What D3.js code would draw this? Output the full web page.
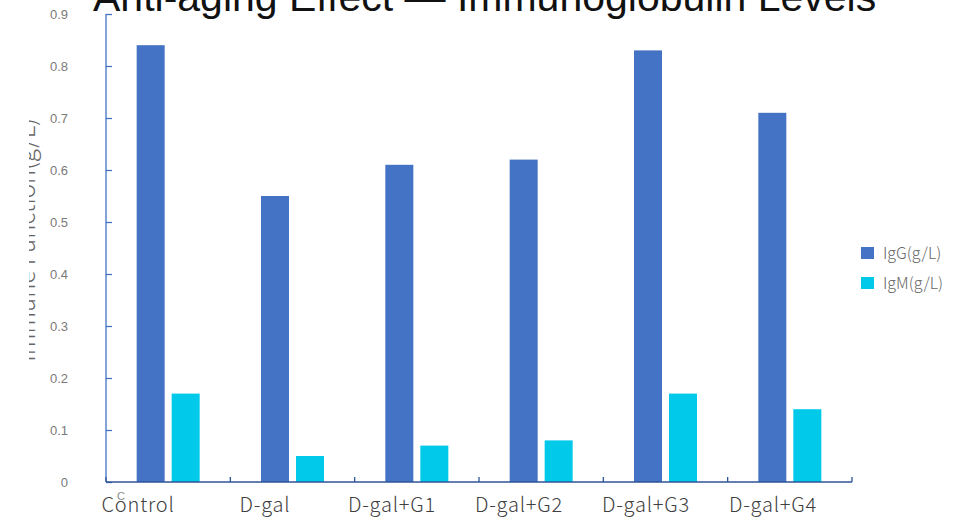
<!DOCTYPE html>
<html>
<head>
<meta charset="utf-8">
<script src="https://cdn.jsdelivr.net/npm/d3@7"></script>
<style>
  html, body { margin: 0; padding: 0; background: #fff; }
  svg { display: block; }
</style>
</head>
<body>
<div id="chart"></div>
<script>
// ---------- Data ----------
const categories = ["Control", "D-gal", "D-gal+G1", "D-gal+G2", "D-gal+G3", "D-gal+G4"];
const seriesNames = ["IgG(g/L)", "IgM(g/L)"];
const igg = [0.84, 0.55, 0.61, 0.62, 0.83, 0.71];
const igm = [0.17, 0.05, 0.07, 0.08, 0.17, 0.14];
const yTicks = [0, 0.1, 0.2, 0.3, 0.4, 0.5, 0.6, 0.7, 0.8, 0.9];

const colors = ["#4472C4", "#00C9E9"];

// ---------- Setup ----------
const width = 968;
const height = 517;
const margin = { top: 14, right: 116, bottom: 35, left: 106 };

const svg = d3.select("#chart")
  .append("svg")
  .attr("width", width)
  .attr("height", height);

const x = d3.scaleBand()
  .domain(categories)
  .range([margin.left, width - margin.right]);

const sub = d3.scaleBand()
  .domain(seriesNames)
  .range([x.bandwidth() / 2 - 31.5, x.bandwidth() / 2 + 31.5])
  .paddingInner(0.2);

const y = d3.scaleLinear()
  .domain([0, 0.9])
  .range([height - margin.bottom, margin.top]);

// labels under the axis sit a bit left of the band centres
const labelX = d3.scalePoint()
  .domain(categories)
  .range([138, 773]);

// ---------- Title (clipped by the top edge) ----------
svg.append("text")
  .attr("x", 93)
  .attr("y", 10.5)
  .attr("font-family", "Liberation Sans, Arial, sans-serif")
  .attr("font-size", 41)
  .attr("fill", "#111")
  .text("Anti-aging Effect — Immunoglobulin Levels");

// ---------- Y axis label (left half clipped) ----------
svg.append("clipPath")
  .attr("id", "ylabClip")
  .append("rect")
  .attr("x", 29).attr("y", 0)
  .attr("width", 60).attr("height", height);

svg.append("g")
  .attr("clip-path", "url(#ylabClip)")
  .append("text")
  .attr("transform", "translate(35,240) rotate(-90)")
  .attr("text-anchor", "middle")
  .attr("font-family", "Noto Sans CJK SC, Liberation Sans, sans-serif")
  .attr("font-weight", 300)
  .attr("font-size", 24)
  .attr("fill", "#666")
  .text("Immune Function(g/L)");

// ---------- Bars ----------
const rows = categories.map((c, i) => ({ cat: c, values: [igg[i], igm[i]] }));

const groups = svg.append("g")
  .selectAll("g")
  .data(rows)
  .join("g")
  .attr("transform", d => `translate(${x(d.cat)},0)`);

groups.selectAll("rect")
  .data(d => d.values.map((v, k) => ({ key: seriesNames[k], value: v, color: colors[k] })))
  .join("rect")
  .attr("x", d => sub(d.key))
  .attr("width", sub.bandwidth())
  .attr("y", d => y(d.value))
  .attr("height", d => y(0) - y(d.value))
  .attr("fill", d => d.color);

// ---------- Y axis ----------
const yAxis = d3.axisLeft(y)
  .tickValues(yTicks)
  .tickSize(-6)
  .tickFormat(d => d === 0 ? "0" : d3.format(".1f")(d));

const yAxisGroup = svg.append("g")
  .attr("transform", `translate(${margin.left},0)`)
  .call(yAxis);

yAxisGroup.select(".domain").remove();
yAxisGroup.append("line")
  .attr("x1", 0).attr("x2", 0)
  .attr("y1", y(0.9)).attr("y2", y(0))
  .attr("stroke", "#4472C4")
  .attr("stroke-width", 1.3);
yAxisGroup.selectAll(".tick line")
  .attr("stroke", "#4472C4")
  .attr("stroke-width", 1.3);
yAxisGroup.selectAll(".tick text")
  .attr("x", -38)
  .attr("font-family", "Liberation Sans, Arial, sans-serif")
  .attr("font-size", 13)
  .attr("fill", "#7a7a7a");

// ---------- X axis ----------
const xAxisGroup = svg.append("g");
xAxisGroup.append("line")
  .attr("x1", margin.left).attr("x2", width - margin.right)
  .attr("y1", y(0)).attr("y2", y(0))
  .attr("stroke", "#2F5597")
  .attr("stroke-width", 1.5);

const boundaries = categories.map(c => x(c)).concat([x(categories[categories.length - 1]) + x.bandwidth()]);
xAxisGroup.selectAll(".xtick")
  .data(boundaries)
  .join("line")
  .attr("class", "xtick")
  .attr("x1", d => d).attr("x2", d => d)
  .attr("y1", y(0)).attr("y2", y(0) - 5)
  .attr("stroke", "#2F5597")
  .attr("stroke-width", 1.3);

xAxisGroup.selectAll(".xlabel")
  .data(categories)
  .join("text")
  .attr("class", "xlabel")
  .attr("x", d => labelX(d))
  .attr("y", 512)
  .attr("text-anchor", "middle")
  .attr("font-family", "Noto Sans CJK SC, Liberation Sans, sans-serif")
  .attr("font-weight", 300)
  .attr("font-size", 20)
  .attr("letter-spacing", 0.8)
  .attr("fill", "#404040")
  .text(d => d);

// small stray glyph over "Control"
svg.append("text")
  .attr("x", 117)
  .attr("y", 500)
  .attr("font-family", "Liberation Sans, Arial, sans-serif")
  .attr("font-size", 11)
  .attr("fill", "#8a8a8a")
  .text("C");

// ---------- Legend ----------
const legend = svg.append("g")
  .selectAll("g")
  .data(seriesNames)
  .join("g")
  .attr("transform", (d, i) => `translate(861,${247 + i * 30})`);

legend.append("rect")
  .attr("width", 13)
  .attr("height", 12)
  .attr("fill", (d, i) => colors[i]);

legend.append("text")
  .attr("x", 22)
  .attr("y", 6)
  .attr("dy", "0.35em")
  .attr("font-family", "Noto Sans CJK SC, Liberation Sans, sans-serif")
  .attr("font-weight", 300)
  .attr("font-size", 16)
  .attr("fill", "#666")
  .text(d => d);
</script>
</body>
</html>
